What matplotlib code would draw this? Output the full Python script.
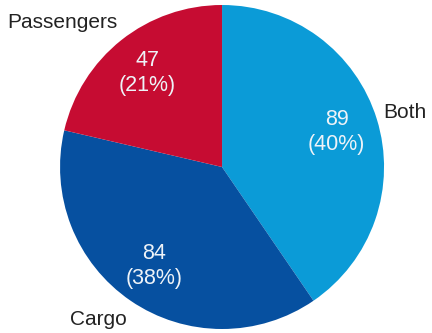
import numpy as np
import matplotlib.pyplot as plt

plt.rcParams["font.family"] = ["Liberation Sans", "DejaVu Sans"]

# counts per category, clockwise from 12 o'clock
categories = ["Both", "Cargo", "Passengers"]
counts = [89, 84, 47]
colors = ["#0b9bd7", "#0650a0", "#c60c32"]

total = sum(counts)

fig = plt.figure(figsize=(4.32, 3.33), dpi=100)
ax = fig.add_axes([0.139, 0.012, 0.75, 0.973])

wedges, texts, autotexts = ax.pie(
    counts,
    labels=categories,
    colors=colors,
    startangle=90,
    counterclock=False,
    pctdistance=0.74,
    autopct=lambda p: "{:d}\n({:.0f}%)".format(int(round(p * total / 100)), p),
    textprops={"fontsize": 15, "color": "#222222"},
)
for t in autotexts:
    t.set_color("#eef3f8")
    t.set_fontsize(15.5)
    t.set_linespacing(1.25)

# push category labels out a bit more vertically than horizontally
for w, t in zip(wedges, texts):
    ang = np.deg2rad((w.theta1 + w.theta2) / 2)
    t.set_position((1.04 * np.cos(ang), 1.14 * np.sin(ang)))

ax.set_xlim(-1, 1)
ax.set_ylim(-1, 1)
ax.set_aspect("equal")

plt.savefig("out.png", dpi=100)
